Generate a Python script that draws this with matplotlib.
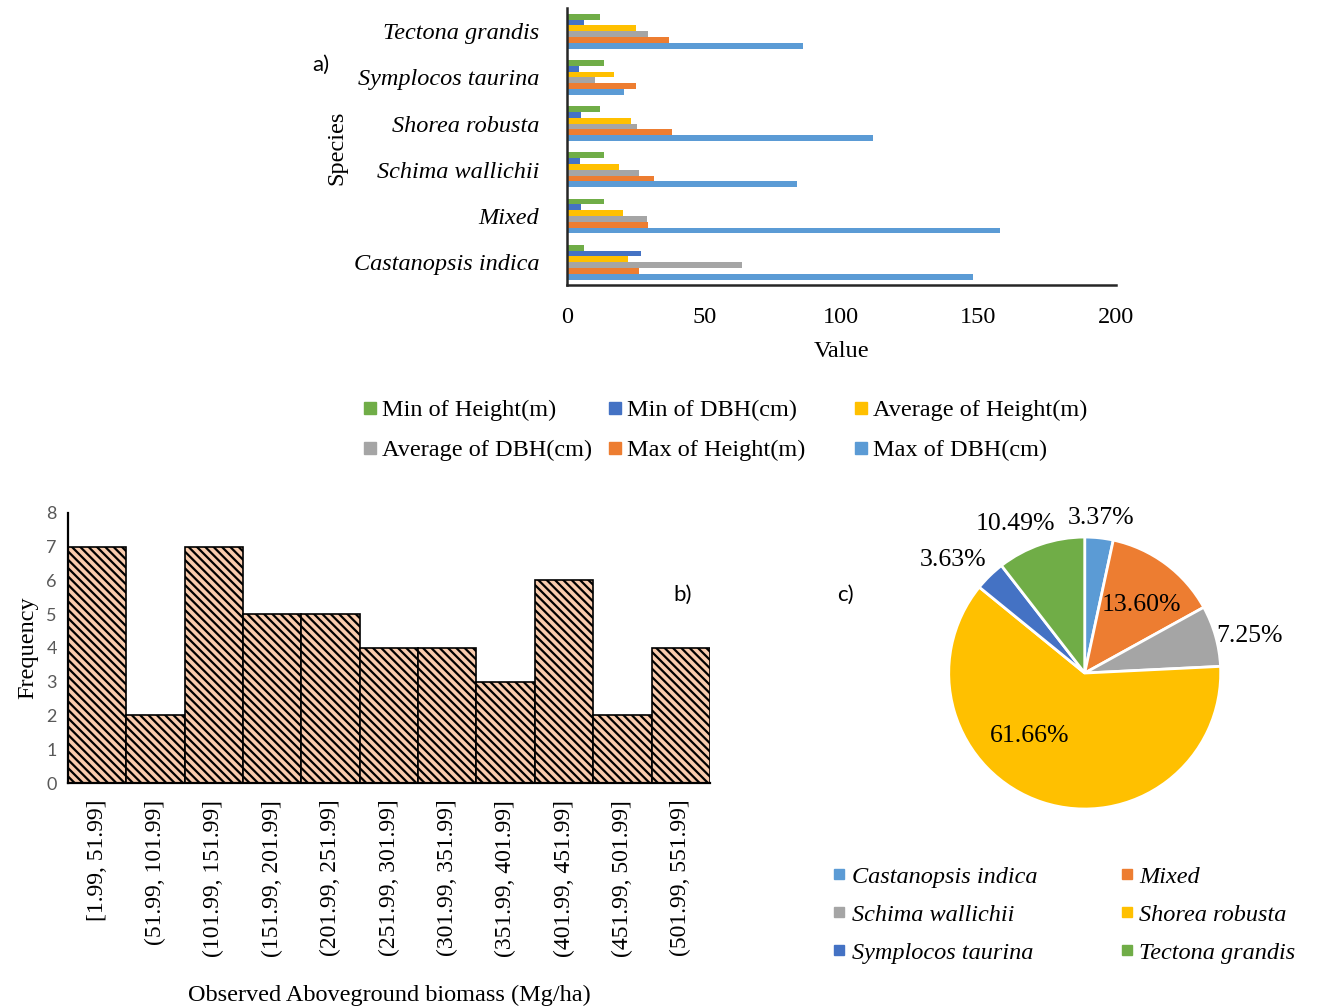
import numpy as np
import matplotlib
matplotlib.use("Agg")
from matplotlib import pyplot as plt
from matplotlib.lines import Line2D

plt.rcParams['font.family'] = ['Liberation Serif', 'DejaVu Serif']
plt.rcParams['hatch.linewidth'] = 1.6

# a) tree size summary per species (bottom to top on the chart)
species = ['Castanopsis indica', 'Mixed', 'Schima wallichii',
           'Shorea robusta', 'Symplocos taurina', 'Tectona grandis']
min_height = [6.2, 13.4, 13.4, 12.0, 13.4, 12.0]
min_dbh = [26.8, 5.1, 4.7, 5.1, 4.4, 6.2]
avg_height = [22.1, 20.3, 18.8, 23.2, 17.1, 25.0]
avg_dbh = [63.6, 29.0, 26.1, 25.4, 10.1, 29.6]
max_height = [26.1, 29.4, 31.8, 38.4, 25.0, 37.3]
max_dbh = [148.0, 157.7, 83.8, 111.6, 20.9, 86.0]
series_names = ['Min of Height(m)', 'Min of DBH(cm)', 'Average of Height(m)',
                'Average of DBH(cm)', 'Max of Height(m)', 'Max of DBH(cm)']

# b) histogram of observed AGB
bins = ['[1.99, 51.99]', '(51.99, 101.99]', '(101.99, 151.99]', '(151.99, 201.99]',
        '(201.99, 251.99]', '(251.99, 301.99]', '(301.99, 351.99]', '(351.99, 401.99]',
        '(401.99, 451.99]', '(451.99, 501.99]', '(501.99, 551.99]']
freq = [7, 2, 7, 5, 5, 4, 4, 3, 6, 2, 4]

# c) share of biomass by species (%)
pie_share = [3.37, 13.60, 7.25, 61.66, 3.63, 10.49]

BLUE = '#5B9BD5'
ORANGE = '#ED7D31'
GRAY = '#A5A5A5'
GOLD = '#FFC000'
DBLUE = '#4472C4'
GREEN = '#70AD47'
series_colors = [GREEN, DBLUE, GOLD, GRAY, ORANGE, BLUE]
pie_colors = [BLUE, ORANGE, GRAY, GOLD, DBLUE, GREEN]

SANS = ['Lato', 'DejaVu Sans']

fig = plt.figure(figsize=(13.25, 10.08), dpi=100)


def column_legend(handles, labels, x, y, **kw):
    # one legend per column so every column starts at a fixed x
    fig.legend(handles, labels, loc='upper left', bbox_to_anchor=(x, y),
               frameon=False, borderpad=0, borderaxespad=0,
               handlelength=0.6, handletextpad=0.2, **kw)


# ---------------- a) horizontal grouped bars ----------------
ax1 = fig.add_axes([0.428, 0.717, 0.414, 0.275])
series = [min_height, min_dbh, avg_height, avg_dbh, max_height, max_dbh]
y = np.arange(len(species))
h = 0.126
for k, (vals, col) in enumerate(zip(series, series_colors)):
    offs = (2.5 - k) * h
    ax1.barh(y + offs, vals, height=h, color=col, edgecolor='none')
ax1.set_xlim(0, 200)
ax1.set_ylim(-0.5, 5.5)
ax1.set_xticks([0, 50, 100, 150, 200])
ax1.set_yticks(y)
ax1.set_yticklabels(species, fontstyle='italic', fontsize=17.5)
ax1.tick_params(axis='x', labelsize=17.5, length=0, pad=16)
ax1.tick_params(axis='y', length=0, pad=20)
for s in ['top', 'right']:
    ax1.spines[s].set_visible(False)
for s in ['left', 'bottom']:
    ax1.spines[s].set_color('#262626')
    ax1.spines[s].set_linewidth(1.8)
ax1.set_xlabel('Value', fontsize=17.5, labelpad=9)
ax1.set_ylabel('Species', fontsize=17.5)
ax1.yaxis.set_label_coords(-0.40, 0.495)

handles = [Line2D([], [], marker='s', ls='none', color=c, markersize=8) for c in series_colors]
for col, x0 in enumerate([0.2735, 0.4585, 0.644]):
    idx = [col, col + 3]
    column_legend([handles[i] for i in idx], [series_names[i] for i in idx],
                  x0, 0.604, fontsize=17.5, labelspacing=0.75)

fig.text(0.236, 0.930, 'a)', fontsize=16, family=SANS)

# ---------------- b) histogram ----------------
ax2 = fig.add_axes([0.0513, 0.2232, 0.4845, 0.268])
x = np.arange(len(bins))
ax2.bar(x, freq, width=1.0, color='#F8CBAD', edgecolor='black', linewidth=1.2,
        hatch='\\\\\\\\')
ax2.set_xlim(-0.5, len(bins) - 0.5)
ax2.set_ylim(0, 8)
ax2.set_yticks(range(9))
ax2.set_xticks(x)
ax2.set_xticklabels(bins, rotation=90, fontsize=17)
ax2.tick_params(axis='x', length=0, pad=12)
ax2.tick_params(axis='y', length=0, pad=8, labelsize=13, labelcolor='#595959')
for lab in ax2.get_yticklabels():
    lab.set_family(SANS)
for s in ['top', 'right']:
    ax2.spines[s].set_visible(False)
ax2.spines['left'].set_linewidth(1.6)
ax2.spines['bottom'].set_linewidth(1.6)
ax2.set_ylabel('Frequency', fontsize=17.5, labelpad=6)
ax2.set_xlabel('Observed Aboveground biomass (Mg/ha)', fontsize=17.5, labelpad=20)
fig.text(0.508, 0.404, 'b)', fontsize=16, family=SANS)

# ---------------- c) pie ----------------
ax3 = fig.add_axes([0.716, 0.1974, 0.2053, 0.2698])
wedges, _ = ax3.pie(pie_share, colors=pie_colors, startangle=90, counterclock=False,
                    radius=1.0, wedgeprops=dict(edgecolor='white', linewidth=2))
lab_r = [1.15, 0.65, 1.24, 0.62, 1.28, 1.21]
lab_shift = [0, -3, -3, -23, 5, 6]
for w, val, r, dshift in zip(wedges, pie_share, lab_r, lab_shift):
    ang = np.deg2rad((w.theta1 + w.theta2) / 2 + dshift)
    ax3.text(r * np.cos(ang), r * np.sin(ang), f'{val:.2f}%', ha='center', va='center',
             fontsize=18.5)
ax3.set_xlim(-1, 1)
ax3.set_ylim(-1, 1)
ax3.set_aspect('equal')
ax3.axis('off')

pie_handles = [Line2D([], [], marker='s', ls='none', color=c, markersize=7) for c in pie_colors]
for col, x0 in enumerate([0.628, 0.845]):
    idx = [col, col + 2, col + 4]
    column_legend([pie_handles[i] for i in idx], [species[i] for i in idx],
                  x0, 0.141, labelspacing=0.66,
                  prop=dict(family='Liberation Serif', style='italic', size=17.5))

fig.text(0.632, 0.404, 'c)', fontsize=16, family=SANS)

fig.savefig('out.png', dpi=100)
